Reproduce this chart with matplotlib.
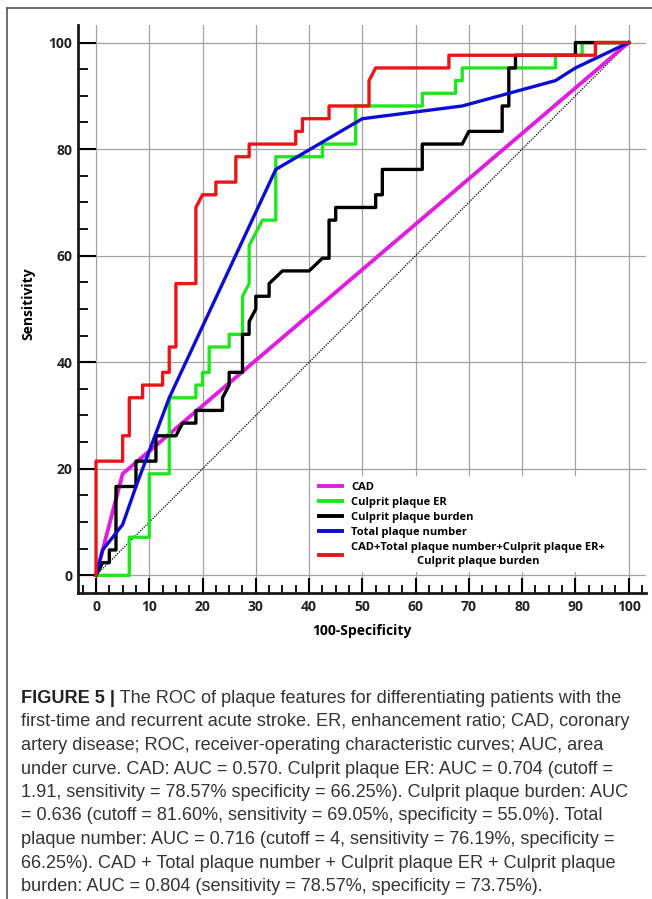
import matplotlib
matplotlib.use("Agg")
import matplotlib.pyplot as plt
from matplotlib import font_manager
from matplotlib.lines import Line2D
from matplotlib.ticker import MultipleLocator


# ── Data (in %) ─────────────────────────────────────────────────────────────

labels = [
    "CAD",
    "Culprit plaque ER",
    "Culprit plaque burden",
    "Total plaque number",
    "CAD+Total plaque number+Culprit plaque ER+\nCulprit plaque burden",
]

cad_x = [0, 5, 100]
cad_y = [0, 19.05, 100]

er_x = [0, 6.25, 6.25, 10, 10, 13.75, 13.75, 18.75, 18.75, 20, 20, 21.25, 21.25,
        25, 25, 27.5, 27.5, 28.75, 28.75, 31.25, 33.75, 33.75, 42.5, 42.5, 48.75,
        48.75, 61.25, 61.25, 67.5, 67.5, 68.75, 68.75, 86.25, 86.25, 91.25, 91.25, 100]
er_y = [0, 0, 7.14, 7.14, 19.05, 19.05, 33.33, 33.33, 35.71, 35.71, 38.1, 38.1, 42.86,
        42.86, 45.24, 45.24, 52.38, 54.76, 61.9, 66.67, 66.67, 78.57, 78.57, 80.95, 80.95,
        88.1, 88.1, 90.48, 90.48, 92.86, 92.86, 95.24, 95.24, 97.62, 97.62, 100, 100]

burden_x = [0, 1.25, 2.5, 2.5, 3.75, 3.75, 7.5, 7.5, 11.25, 11.25, 15, 16.25, 18.75,
            18.75, 23.75, 23.75, 25, 25, 27.5, 27.5, 28.75, 28.75, 30, 30, 32.5, 32.5,
            35, 40, 42.5, 43.75, 43.75, 45, 45, 52.5, 52.5, 53.75, 53.75, 61.25, 61.25,
            68.75, 70, 76.25, 76.25, 77.5, 77.5, 78.75, 78.75, 90, 90, 100]
burden_y = [0, 2.38, 2.38, 4.76, 4.76, 16.67, 16.67, 21.43, 21.43, 26.19, 26.19, 28.57,
            28.57, 30.95, 30.95, 33.33, 35.71, 38.1, 38.1, 45.24, 45.24, 47.62, 50, 52.38,
            52.38, 54.76, 57.14, 57.14, 59.52, 59.52, 66.67, 66.67, 69.05, 69.05, 71.43,
            71.43, 76.19, 76.19, 80.95, 80.95, 83.33, 83.33, 88.1, 88.1, 95.24, 95.24,
            97.62, 97.62, 100, 100]

number_x = [0, 1.25, 5, 7.5, 13.75, 33.75, 50, 68.75, 86.25, 90, 100]
number_y = [0, 4.76, 9.52, 16.67, 33.33, 76.19, 85.71, 88.1, 92.86, 95.24, 100]

combo_x = [0, 0, 5, 5, 6.25, 6.25, 8.75, 8.75, 12.5, 12.5, 13.75, 13.75, 15, 15, 18.75,
           18.75, 20, 22.5, 22.5, 26.25, 26.25, 28.75, 28.75, 37.5, 37.5, 38.75, 38.75,
           43.75, 43.75, 51.25, 51.25, 52.5, 66.25, 66.25, 93.75, 93.75, 100]
combo_y = [0, 21.43, 21.43, 26.19, 26.19, 33.33, 33.33, 35.71, 35.71, 38.1, 38.1, 42.86,
           42.86, 54.76, 54.76, 69.05, 71.43, 71.43, 73.81, 73.81, 78.57, 78.57, 80.95,
           80.95, 83.33, 83.33, 85.71, 85.71, 88.1, 88.1, 92.86, 95.24, 95.24, 97.62,
           97.62, 100, 100]

caption_lines = [
    " The ROC of plaque features for differentiating patients with the",
    "first-time and recurrent acute stroke. ER, enhancement ratio; CAD, coronary",
    "artery disease; ROC, receiver-operating characteristic curves; AUC, area",
    "under curve. CAD: AUC = 0.570. Culprit plaque ER: AUC = 0.704 (cutoff =",
    "1.91, sensitivity = 78.57% specificity = 66.25%). Culprit plaque burden: AUC",
    "= 0.636 (cutoff = 81.60%, sensitivity = 69.05%, specificity = 55.0%). Total",
    "plaque number: AUC = 0.716 (cutoff = 4, sensitivity = 76.19%, specificity =",
    "66.25%). CAD + Total plaque number + Culprit plaque ER + Culprit plaque",
    "burden: AUC = 0.804 (sensitivity = 78.57%, specificity = 73.75%).",
]


def has_font(name):
    try:
        font_manager.findfont(name, fallback_to_default=False)
        return True
    except ValueError:
        return False


chart_font = "Open Sans" if has_font("Open Sans") else "DejaVu Sans"
cap_font = "Liberation Sans Narrow" if has_font("Liberation Sans Narrow") else "Liberation Sans"

W, H = 652, 899
fig = plt.figure(figsize=(W / 100, H / 100), dpi=100)
fig.patch.set_facecolor("white")

# ── Axes ─────────────────────────────────────────────────────────────────────
ax = fig.add_axes([78 / W, 1 - 593 / H, 568 / W, 568 / H])
ax.set_xlim(-3.38, 103.25)
ax.set_ylim(-3.32, 103.3)

ax.plot([0, 100], [0, 100], color="black", lw=0.9, ls=(0, (1, 1)), zorder=2)
ax.plot(cad_x, cad_y, color="#e01ee0", lw=2.8, label=labels[0], zorder=3)
ax.plot(er_x, er_y, color="#1fe61f", lw=2.4, label=labels[1], zorder=4)
ax.plot(burden_x, burden_y, color="black", lw=2.4, label=labels[2], zorder=5)
ax.plot(number_x, number_y, color="#0c0cd2", lw=2.4, label=labels[3], zorder=6)
ax.plot(combo_x, combo_y, color="#ea1419", lw=2.4, label=labels[4], zorder=7)

ax.xaxis.set_major_locator(MultipleLocator(10))
ax.xaxis.set_minor_locator(MultipleLocator(2.5))
ax.yaxis.set_major_locator(MultipleLocator(20))
ax.yaxis.set_minor_locator(MultipleLocator(5))
ax.grid(True, which="major", color="#a2a2a2", lw=0.9, zorder=1)
ax.set_axisbelow(True)

for side in ["top", "right"]:
    ax.spines[side].set_visible(False)
for side in ["left", "bottom"]:
    ax.spines[side].set_linewidth(2.0)
    ax.spines[side].set_color("#1a1a1a")

ax.tick_params(axis="x", which="major", direction="in", length=11, width=1.5, pad=5)
ax.tick_params(axis="x", which="minor", direction="in", length=5.5, width=1.3)
ax.tick_params(axis="y", which="major", direction="in", length=13, width=1.5, pad=4)
ax.tick_params(axis="y", which="minor", direction="in", length=7, width=1.3)
for lab in ax.get_xticklabels() + ax.get_yticklabels():
    lab.set_fontfamily(chart_font)
    lab.set_fontweight("bold")
    lab.set_fontsize(10)
    lab.set_color("#222222")

ax.set_xlabel("100-Specificity", fontfamily=chart_font, fontweight="bold", fontsize=10)
ax.set_ylabel("Sensitivity", fontfamily=chart_font, fontweight="bold", fontsize=10)
ax.xaxis.set_label_coords(0.5, -0.055)
ax.yaxis.set_label_coords(-0.075, 0.51)

leg = ax.legend(loc="upper left", bbox_to_anchor=(0.405, 0.215),
                prop={"family": chart_font, "weight": "bold", "size": 8},
                frameon=True, fancybox=False, framealpha=1, facecolor="white",
                edgecolor="none", borderpad=0.5, handlelength=2.1, handletextpad=0.8,
                labelspacing=0.36)
for t in leg.get_texts():
    t.set_multialignment("center")
    t.set_linespacing(1.35)
for h in leg.get_lines():
    h.set_linewidth(2.8)

# ── Panel frame ──────────────────────────────────────────────────────────────
fig.add_artist(Line2D([7 / W, 7 / W], [0, 1 - 8 / H], color="#555555", lw=1.2))
fig.add_artist(Line2D([7 / W, 1], [1 - 8 / H, 1 - 8 / H], color="#555555", lw=1.2))

# ── Caption ──────────────────────────────────────────────────────────────────
renderer = fig.canvas.get_renderer()
probe = fig.text(0, 0, caption_lines[4], fontfamily=cap_font, fontsize=10)
cap_size = 10 * 611 / probe.get_window_extent(renderer).width
probe.remove()

x0, base0, step = 21, 703, 23.5
head = fig.text(x0 / W, 1 - base0 / H, "FIGURE 5 |", fontfamily=cap_font,
                fontweight="bold", fontsize=cap_size, va="baseline", color="#222222")
head_w = head.get_window_extent(renderer).width
for i, line in enumerate(caption_lines):
    x = x0 + head_w if i == 0 else x0
    fig.text(x / W, 1 - (base0 + i * step) / H, line, fontfamily=cap_font,
             fontsize=cap_size, va="baseline", color="#333333")

fig.savefig("out.png", dpi=100, facecolor="white")
plt.close(fig)
